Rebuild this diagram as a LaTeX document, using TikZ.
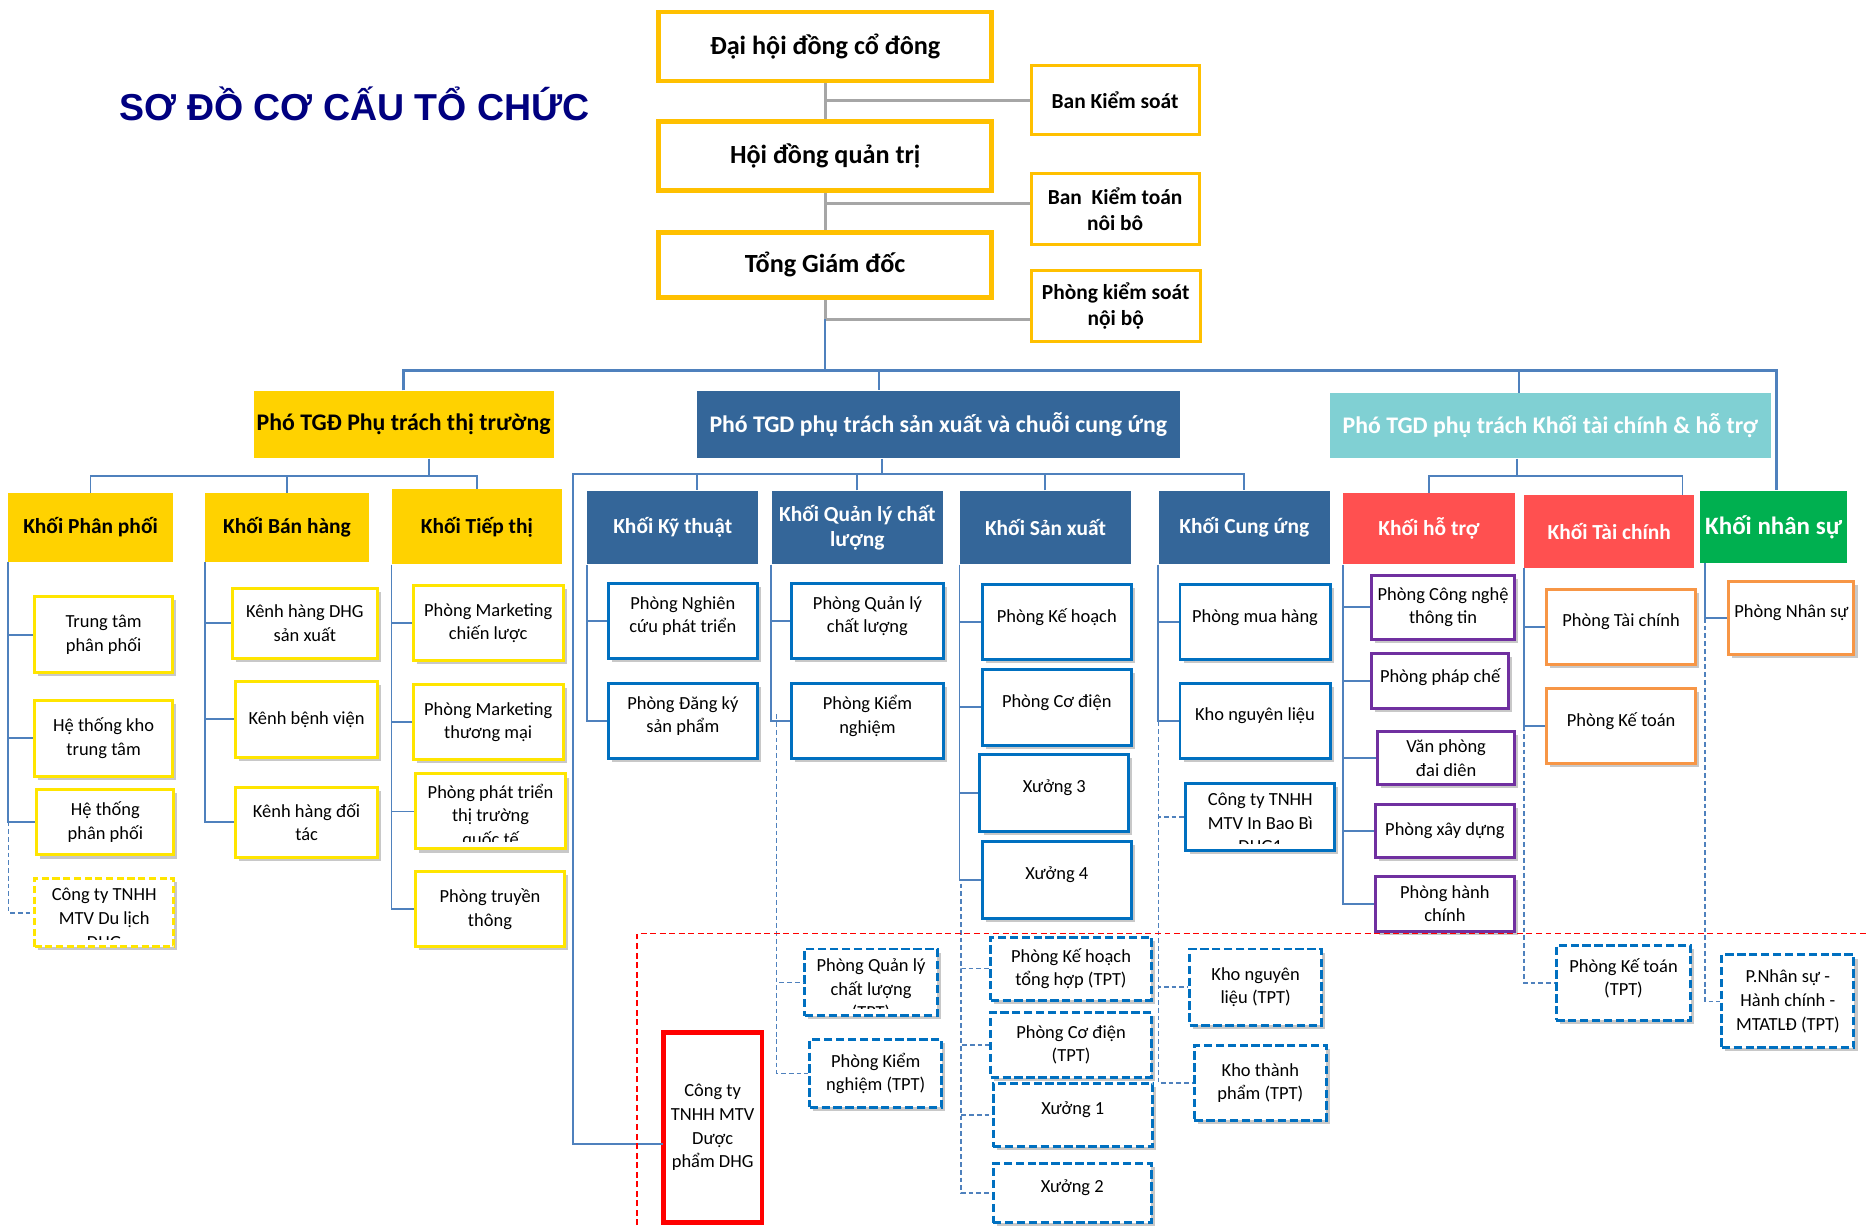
\documentclass[tikz,border=0pt]{standalone}
\usepackage{fontspec}
\setmainfont{Carlito}
\newfontfamily\titlefont{Liberation Sans}
\usetikzlibrary{shadows}
\definecolor{cGold}{HTML}{FFC000}
\definecolor{cYH}{HTML}{FFD200}
\definecolor{cYel}{HTML}{FFE500}
\definecolor{cSB}{HTML}{346699}
\definecolor{cTeal}{HTML}{80D0D3}
\definecolor{cRed}{HTML}{FF5050}
\definecolor{cGreen}{HTML}{00B050}
\definecolor{cBlu}{HTML}{0070C0}
\definecolor{cPur}{HTML}{7030A0}
\definecolor{cOra}{HTML}{F79646}
\definecolor{cLine}{HTML}{4F81BD}
\definecolor{cGray}{HTML}{A6A6A6}
\definecolor{cNavy}{HTML}{000080}
\newcommand\bx[7]{%
  \pgfmathsetmacro\bxw{#5-#3}\pgfmathsetmacro\bxh{#6-#4}%
  \node[#2, minimum width=\bxw pt, minimum height=\bxh pt] (#1) at ({(#3+#5)/2},{(#4+#6)/2}) {#7};}
\newcommand\cbx[7]{%
  \bx{#1}{#2}{#3}{#4}{#5}{#6}{}%
  \begin{scope}
    \clip ({#3+2},{#4+2}) rectangle ({#5-2},{#6-6});
    \node[ctext, anchor=north] (#1t) at ({(#3+#5)/2},{#4+8}) {#7};
  \end{scope}}
\tikzset{
  topbox/.style={draw=cGold, line width=4pt, fill=white, inner sep=0pt,
    font=\fontsize{22}{26}\selectfont\bfseries},
  sidebox/.style={draw=cGold, line width=2.5pt, fill=white, inner sep=0pt, align=center,
    font=\fontsize{18}{22}\selectfont\bfseries},
  vphead/.style={inner sep=0pt, align=center, font=\fontsize{20}{24}\selectfont\bfseries},
  khead/.style={inner sep=0pt, align=center, font=\fontsize{18}{21}\selectfont\bfseries},
  child/.style={fill=white, line width=2.5pt, inner sep=1pt, align=center,
    font=\fontsize{15.5}{19.8}\selectfont,
    drop shadow={shadow xshift=3pt, shadow yshift=-3pt, opacity=0.3, fill=black!70}},
  ctext/.style={inner sep=0pt, align=center, font=\fontsize{15.5}{19.8}\selectfont},
  ybox/.style={child, draw=cYel},
  ydbox/.style={ybox, dash pattern=on 6pt off 3pt},
  bbox/.style={child, draw=cBlu, text depth=11pt},
  bdbox/.style={child, draw=cBlu, dash pattern=on 7pt off 3pt},
  pbox/.style={child, draw=cPur},
  obox/.style={child, draw=cOra, text depth=11pt},
  conn/.style={draw=cLine, line width=1.6pt},
  busline/.style={draw=cLine, line width=2.6pt},
  dconn/.style={draw=cLine, line width=1.4pt, dash pattern=on 4pt off 2.5pt},
  gconn/.style={draw=cGray, line width=2.5pt},
  reddash/.style={draw=red, line width=1.3pt, dash pattern=on 5pt off 3pt},
  ttl/.style={inner sep=0pt, text=cNavy, font=\titlefont\fontsize{31.5}{36}\selectfont\bfseries}
}
\begin{document}
\begin{tikzpicture}[x=1pt,y=-1pt]
\useasboundingbox[fill=white] (0,0) rectangle (1568,1029);
% title
\node[ttl] (title) at (298,87) {SƠ ĐỒ CƠ CẤU TỔ CHỨC};
% top level
\bx{dh}{topbox}{553}{10}{833}{68}{Đại hội đồng cổ đông}
\bx{hd}{topbox}{553}{102}{833}{160}{Hội đồng quản trị}
\bx{tg}{topbox}{553}{195}{833}{250}{Tổng Giám đốc}
\bx{ks}{sidebox}{866}{55}{1007}{113}{Ban Kiểm soát}
\bx{bkt}{sidebox}{866}{146}{1007}{205}{Ban\ \ Kiểm toán\\nôi bô}
\bx{ps}{sidebox}{866}{227}{1008}{287}{Phòng kiểm soát\\nội bộ}
% vice directors
\bx{vp1}{vphead, fill=cYH}{213}{328}{465}{385}{Phó TGĐ Phụ trách thị trường}
\bx{vp2}{vphead, fill=cSB, text=white}{585}{328}{991}{385}{Phó TGD phụ trách sản xuất và chuỗi cung ứng}
\bx{vp3}{vphead, fill=cTeal, text=white}{1117}{330}{1487}{385}{Phó TGD phụ trách Khối tài chính \& hỗ trợ}
% blocks
\bx{kpp}{khead, fill=cYH}{7}{414}{145}{472}{Khối Phân phối}
\bx{kbh}{khead, fill=cYH}{172}{414}{310}{472}{Khối Bán hàng}
\bx{ktt}{khead, fill=cYH}{329}{411}{472}{474}{Khối Tiếp thị}
\bx{kkt}{khead, fill=cSB, text=white}{493}{412}{637}{474}{Khối Kỹ thuật}
\bx{kql}{khead, fill=cSB, text=white}{648}{412}{792}{474}{Khối Quản lý chất\\lượng}
\bx{ksx}{khead, fill=cSB, text=white}{806}{412}{950}{474}{Khối Sản xuất}
\bx{kcu}{khead, fill=cSB, text=white}{973}{412}{1117}{474}{Khối Cung ứng}
\bx{kht}{khead, fill=cRed, text=white}{1128}{414}{1272}{474}{Khối hỗ trợ}
\bx{ktc}{khead, fill=cRed, text=white}{1280}{416}{1423}{477}{Khối Tài chính}
\bx{kns}{khead, fill=cGreen, text=white, font=\fontsize{21}{24}\selectfont\bfseries}{1428}{412}{1551}{473}{Khối nhân sự}
% Phan phoi
\bx{pp1}{ybox}{29}{501}{145}{565}{Trung tâm\\phân phối}
\bx{pp2}{ybox}{29}{588}{145}{652}{Hệ thống kho\\trung tâm}
\bx{pp3}{ybox}{31}{663}{146}{718}{Hệ thống\\phân phối}
\cbx{pp4}{ydbox}{29}{738}{146}{795}{Công ty TNHH\\MTV Du lịch\\DHG}
% Ban hang
\bx{bh1}{ybox}{195}{494}{317}{553}{Kênh hàng DHG\\sản xuất}
\bx{bh2}{ybox}{198}{572}{317}{636}{Kênh bệnh viện}
\bx{bh3}{ybox}{198}{661}{317}{720}{Kênh hàng đối\\tác}
% Tiep thi
\bx{tt1}{ybox}{347}{492}{473}{555}{Phòng Marketing\\chiến lược}
\bx{tt2}{ybox}{347}{575}{473}{638}{Phòng Marketing\\thương mại}
\cbx{tt3}{ybox}{349}{650}{475}{713}{Phòng phát triển\\thị trường\\quốc tế}
\bx{tt4}{ybox}{349}{732}{474}{795}{Phòng truyền\\thông}
% Ky thuat
\bx{ky1}{bbox}{511}{490}{636}{553}{Phòng Nghiên\\cứu phát triển}
\bx{ky2}{bbox}{511}{574}{636}{637}{Phòng Đăng ký\\sản phẩm}
% QLCL
\bx{ql1}{bbox}{665}{490}{792}{553}{Phòng Quản lý\\chất lượng}
\bx{ql2}{bbox}{665}{574}{792}{637}{Phòng Kiểm\\nghiệm}
\cbx{ql3}{bdbox}{676}{797}{787}{853}{Phòng Quản lý\\chất lượng\\(TPT)}
\bx{ql4}{bdbox}{680}{873}{791}{930}{Phòng Kiểm\\nghiệm (TPT)}
% San xuat
\bx{sx1}{bbox}{825}{491}{950}{554}{Phòng Kế hoạch}
\bx{sx2}{bbox}{825}{562}{950}{626}{Phòng Cơ điện}
\bx{sx3}{bbox}{823}{634}{948}{698}{Xưởng 3}
\bx{sx4}{bbox}{825}{707}{950}{771}{Xưởng 4}
\bx{sx5}{bdbox}{832}{787}{967}{840}{Phòng Kế hoạch\\tổng hợp (TPT)}
\bx{sx6}{bdbox}{832}{850}{967}{905}{Phòng Cơ điện\\(TPT)}
\bx{sx7}{bdbox, text depth=11pt}{834}{910}{968}{963}{Xưởng 1}
\bx{sx8}{bdbox, text depth=11pt}{834}{977}{967}{1027}{Xưởng 2}
% Cung ung
\bx{cu1}{bbox}{991}{491}{1117}{554}{Phòng mua hàng}
\bx{cu2}{bbox}{991}{574}{1117}{637}{Kho nguyên liệu}
\cbx{cu3}{bbox}{996}{658}{1121}{714}{Công ty TNHH\\MTV In Bao Bì\\DHG1}
\bx{cu4}{bdbox}{999}{797}{1110}{861}{Kho nguyên\\liệu (TPT)}
\bx{cu5}{bdbox}{1003}{878}{1114}{941}{Kho thành\\phẩm (TPT)}
% Ho tro
\bx{ht1}{pbox}{1152}{483}{1272}{537}{Phòng Công nghệ\\thông tin}
\bx{ht2}{pbox, text depth=10pt}{1152}{549}{1267}{595}{Phòng pháp chế}
\bx{ht3}{pbox}{1157}{614}{1272}{659}{Văn phòng\\đai diên}
\bx{ht4}{pbox}{1155}{676}{1272}{720}{Phòng xây dựng}
\bx{ht5}{pbox}{1155}{736}{1272}{782}{Phòng hành\\chính}
% Tai chinh
\bx{tc1}{obox}{1299}{495}{1424}{558}{Phòng Tài chính}
\bx{tc2}{obox}{1299}{578}{1424}{641}{Phòng Kế toán}
\bx{tc3}{bdbox, text depth=10pt}{1307}{794}{1420}{857}{Phòng Kế toán\\(TPT)}
% Nhan su
\bx{ns1}{obox}{1452}{488}{1557}{550}{Phòng Nhân sự}
\bx{ns2}{bdbox}{1446}{802}{1557}{880}{P.Nhân sự -\\Hành chính -\\MTATLĐ (TPT)}
% company
\bx{dp}{fill=white, draw=red, line width=4pt, inner sep=0pt, align=center, font=\fontsize{15.5}{19.8}\selectfont}{557}{867}{640}{1027}{Công ty\\TNHH MTV\\Dược\\phẩm DHG}
% ---------------- connectors
\draw[gconn] (dh.south) -- (hd.north);
\draw[gconn] (hd.south) -- (tg.north);
\draw[gconn] (ks.west) -- (ks.west -| dh.south);
\coordinate (gb) at (693,171);
\draw[gconn] (gb) -- (gb -| bkt.west);
\coordinate (gk) at (693,268);
\draw[gconn] (tg.south) -- (gk) -- (gk -| ps.west);
\coordinate (busL) at (339,311);
\coordinate (busR) at (1492,311);
\draw[conn] (gk) -- (gk |- busL);
\draw[busline] (vp1.north) -- (busL) -- (busR) -- (busR |- kns.north);
\coordinate (v2) at (738,311);
\draw[conn] (v2) -- (v2 |- vp2.north);
\coordinate (v3) at (1276,311);
\draw[conn] (v3) -- (v3 |- vp3.north);
% sub bus 1
\coordinate (s1) at (360,400);
\draw[conn] (s1 |- vp1.south) -- (s1);
\draw[conn] (kpp.north) |- (s1) -| (ktt.north);
\draw[conn] (kbh.north) -- (kbh.north |- s1);
% sub bus 2
\coordinate (s2) at (741,398);
\coordinate (s2L) at (481,398);
\draw[conn] (s2 |- vp2.south) -- (s2);
\coordinate (dpc) at (557,961);
\draw[conn] (dpc) -| (s2L) -- (s2) -| (kcu.north);
\coordinate (s2a) at (585,398);
\draw[conn] (s2a) -- (s2a |- kkt.north);
\draw[conn] (kql.north) -- (kql.north |- s2);
\draw[conn] (ksx.north) -- (ksx.north |- s2);
% sub bus 3
\coordinate (s3) at (1274,400);
\coordinate (s3r) at (1413,400);
\draw[conn] (s3 |- vp3.south) -- (s3);
\draw[conn] (kht.north) |- (s3) -- (s3r) -- (s3r |- ktc.north);
% children
\draw[conn] (kpp.south west) |- (pp1.west) (kpp.south west) |- (pp2.west) (kpp.south west) |- (pp3.west);
\coordinate (ppT) at (7,690);
\draw[dconn] (ppT) |- (pp4.west);
\draw[conn] (kbh.south west) |- (bh1.west) (kbh.south west) |- (bh2.west) (kbh.south west) |- (bh3.west);
\draw[conn] (ktt.south west) |- (tt1.west) (ktt.south west) |- (tt2.west) (ktt.south west) |- (tt3.west) (ktt.south west) |- (tt4.west);
\draw[conn] (kkt.south west) |- (ky1.west) (kkt.south west) |- (ky2.west);
\draw[conn] (kql.south west) |- (ql1.west) (kql.south west) |- (ql2.west);
\coordinate (qlT) at (652,600);
\draw[dconn] (qlT) |- (ql3.west) (qlT) |- (ql4.west);
\draw[conn] (ksx.south west) |- (sx1.west) (ksx.south west) |- (sx2.west) (ksx.south west) |- (sx3.west) (ksx.south west) |- (sx4.west);
\coordinate (sxT) at (807,742);
\draw[dconn] (sxT) |- (sx5.west) (sxT) |- (sx6.west) (sxT) |- (sx7.west) (sxT) |- (sx8.west);
\draw[conn] (kcu.south west) |- (cu1.west) (kcu.south west) |- (cu2.west);
\coordinate (cuT) at (973,606);
\draw[dconn] (cuT) |- (cu3.west) (cuT) |- (cu4.west) (cuT) |- (cu5.west);
\draw[conn] (kht.south west) |- (ht1.west) (kht.south west) |- (ht2.west) (kht.south west) |- (ht3.west) (kht.south west) |- (ht4.west) (kht.south west) |- (ht5.west);
\draw[conn] (ktc.south west) |- (tc1.west) (ktc.south west) |- (tc2.west);
\coordinate (tcT) at (1280,610);
\draw[dconn] (tcT) |- (tc3.west);
\coordinate (nsT) at (1432,473);
\draw[conn] (nsT) |- (ns1.west);
\coordinate (nsT2) at (1432,519);
\draw[dconn] (nsT2) |- (ns2.west);
% red boundary
\coordinate (r1) at (535,1029);
\coordinate (r2) at (535,784);
\coordinate (r3) at (1568,784);
\draw[reddash] (r1) -- (r2) -- (r3);
\end{tikzpicture}
\end{document}
